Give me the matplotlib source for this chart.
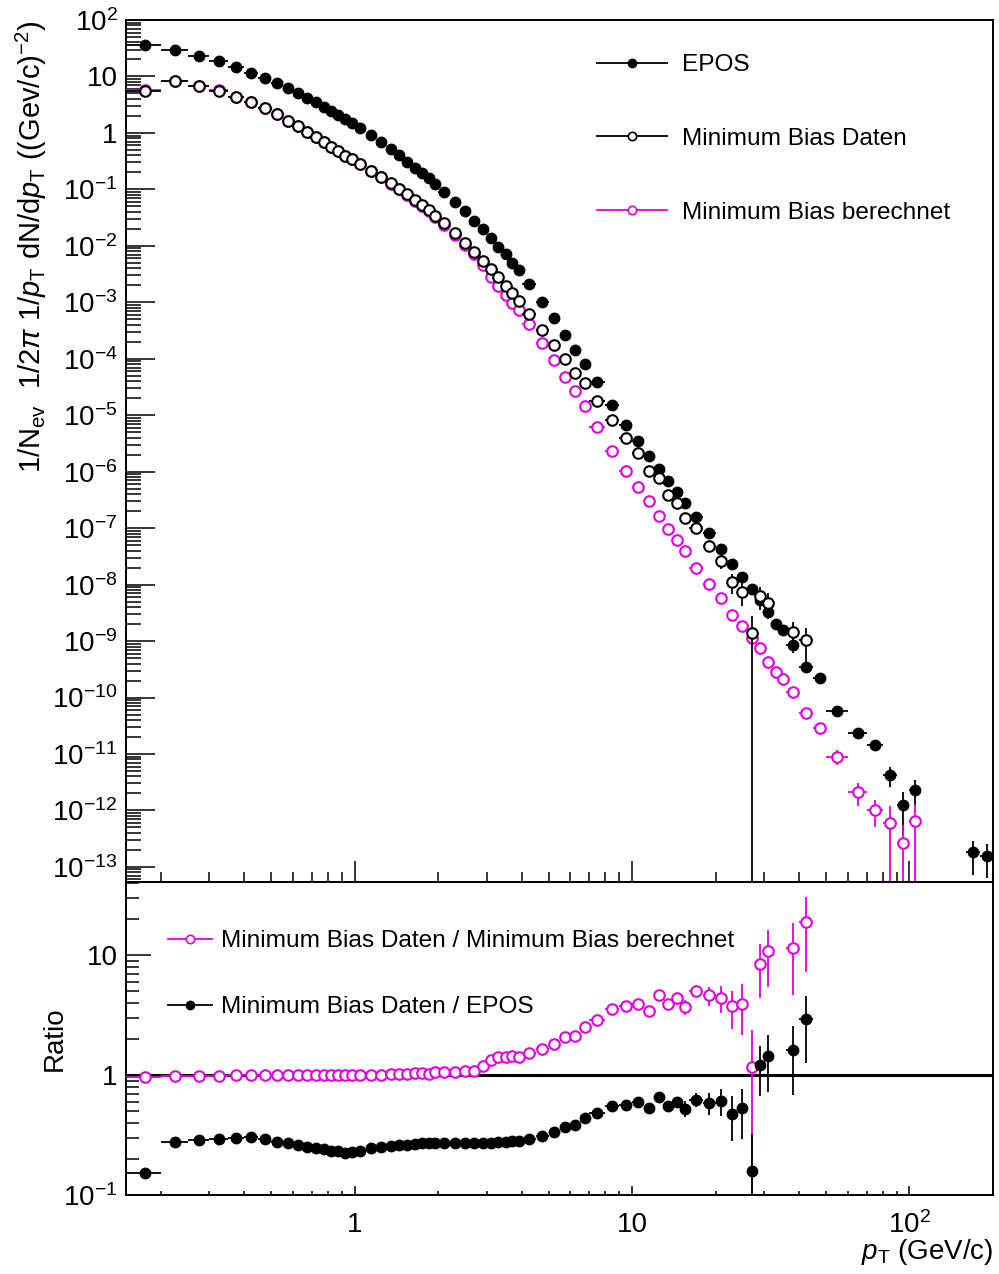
import numpy as np
import matplotlib
matplotlib.use('Agg')
import matplotlib.pyplot as plt
from matplotlib.ticker import LogLocator, FuncFormatter, NullFormatter
from matplotlib.lines import Line2D

plt.rcParams['font.family'] = ['Liberation Sans', 'DejaVu Sans']
plt.rcParams['mathtext.fontset'] = 'custom'
plt.rcParams['mathtext.rm'] = 'Liberation Sans'
plt.rcParams['mathtext.it'] = 'Liberation Sans:italic'
plt.rcParams['mathtext.bf'] = 'Liberation Sans:bold'

nan = np.nan

# pT bin edges (GeV/c)
edges = [0.15, 0.2, 0.25, 0.3, 0.35, 0.4, 0.45, 0.5, 0.55, 0.6, 0.65, 0.7, 0.75, 0.8, 0.85, 0.9, 0.95, 1.0,
         1.1, 1.2, 1.3, 1.4, 1.5, 1.6, 1.7, 1.8, 1.9, 2.0,
         2.2, 2.4, 2.6, 2.8, 3.0, 3.2, 3.4, 3.6, 3.8, 4.0,
         4.5, 5.0, 5.5, 6.0, 6.5, 7.0,
         8, 9, 10, 11, 12, 13, 14, 15, 16,
         18, 20, 22, 24, 26, 28, 30, 32,
         34, 36, 40, 45, 50,
         60, 70, 80, 90, 100, 110, 160, 180, 200]

epos = [36.1, 29.4, 23.3, 18.6, 14.5, 11.7, 9.28, 7.66, 6.17, 5.10, 4.21, 3.53, 2.92, 2.48, 2.08, 1.79, 1.50,
        1.21, 0.919, 0.683, 0.519, 0.402, 0.310, 0.242, 0.193, 0.157, 0.125,
        0.0900, 0.0591, 0.0410, 0.0279, 0.0197, 0.0138, 0.00967, 0.00710, 0.00504, 0.00374,
        2.14e-3, 1.03e-3, 5.22e-4, 2.67e-4, 1.43e-4, 8.10e-5,
        3.84e-5, 1.50e-5, 6.73e-6, 3.50e-6, 1.93e-6, 1.13e-6, 6.95e-7, 4.43e-7, 2.83e-7,
        1.60e-7, 8.23e-8, 4.23e-8, 2.33e-8, 1.35e-8, 8.39e-9, 5.29e-9, 3.28e-9,
        2.04e-9, 1.58e-9,
        8.66e-10, 3.53e-10, 2.23e-10,
        5.73e-11, 2.39e-11, 1.43e-11, 4.27e-12, 1.26e-12, 2.31e-12,
        nan, 1.80e-13, 1.59e-13]
epos_rel = [0.01] * 17 + [0.01] * 10 + [0.01] * 10 + [0.02] * 6 + [0.03] * 9 + \
           [0.04, 0.05, 0.06, 0.08, 0.10, 0.12, 0.20, 0.24] + [0.15, 0.15] + [0.28, 0.12, 0.10] + \
           [0.12, 0.20, 0.15, 0.40, 0.71, 0.48] + [nan, 0.6, 0.6]

daten = [5.60, 8.32, 6.78, 5.60, 4.38, 3.57, 2.73, 2.14, 1.65, 1.33, 1.05, 0.858, 0.700, 0.571, 0.479, 0.395, 0.341,
         0.282, 0.214, 0.168, 0.131, 0.103, 0.0829, 0.0649, 0.0530, 0.0427, 0.0341,
         0.0249, 0.0166, 0.0111, 0.00779, 0.00540, 0.00385, 0.00281, 0.00195, 0.00145, 0.00106,
         6.22e-4, 3.24e-4, 1.76e-4, 1.00e-4, 5.61e-5, 3.69e-5,
         1.81e-5, 8.25e-6, 3.91e-6, 2.12e-6, 1.03e-6, 7.66e-7, 3.88e-7, 2.76e-7, 1.50e-7,
         1.02e-7, 4.84e-8, 2.63e-8, 1.12e-8, 7.43e-9, 1.38e-9, 6.31e-9, 4.80e-9,
         nan, nan,
         1.44e-9, 1.05e-9, nan,
         nan, nan, nan, nan, nan, nan,
         nan, nan, nan]
daten_rel = [0.01] * 17 + [0.01] * 10 + [0.01] * 10 + [0.02] * 6 + [0.03] * 6 + [0.06, 0.06, 0.08] + \
            [0.10, 0.15, 0.27, 0.39, 0.43, 1.02, 0.43, 0.48] + [nan, nan] + [0.50, 0.60, nan] + \
            [nan] * 6 + [nan] * 3

berechnet = [5.82, 8.48, 6.91, 5.66, 4.40, 3.59, 2.74, 2.15, 1.66, 1.34, 1.055, 0.858, 0.699, 0.570, 0.477, 0.394, 0.340,
             0.280, 0.211, 0.166, 0.127, 0.100, 0.0803, 0.0624, 0.0510, 0.0413, 0.0322,
             0.0234, 0.0155, 0.0102, 0.00721, 0.00453, 0.00281, 0.00197, 0.00135, 9.9e-4, 7.2e-4,
             4.05e-4, 1.93e-4, 9.5e-5, 4.82e-5, 2.7e-5, 1.44e-5,
             6.25e-6, 2.34e-6, 1.01e-6, 5.35e-7, 2.97e-7, 1.62e-7, 9.7e-8, 6.2e-8, 4.0e-8,
             1.98e-8, 1.03e-8, 5.85e-9, 2.94e-9, 1.84e-9, 1.15e-9, 7.5e-10, 4.3e-10,
             2.84e-10, 2.16e-10,
             1.24e-10, 5.41e-11, 2.86e-11,
             9.0e-12, 2.13e-12, 1.02e-12, 5.95e-13, 2.70e-13, 6.53e-13,
             nan, nan, nan]
berechnet_rel = [0.01] * 17 + [0.01] * 10 + [0.01] * 10 + [0.02] * 6 + [0.02] * 9 + \
                [0.03, 0.03, 0.04, 0.04, 0.05, 0.05, 0.06, 0.07] + [0.07, 0.08] + [0.08, 0.10, 0.15] + \
                [0.30, 0.43, 0.50, 1.02, 1.02, 1.02] + [nan] * 3

# ratio Daten / berechnet
ratio_mb = [0.962, 0.981, 0.981, 0.99, 0.995, 0.995, 0.995, 0.995, 0.995, 0.995, 0.995, 1.0, 1.002, 1.002, 1.005, 1.002, 1.002,
            1.007, 1.013, 1.013, 1.033, 1.027, 1.033, 1.04, 1.04, 1.033, 1.06,
            1.065, 1.07, 1.09, 1.08, 1.205, 1.35, 1.415, 1.43, 1.44, 1.43,
            1.54, 1.66, 1.83, 2.08, 2.11, 2.52,
            2.91, 3.55, 3.81, 3.93, 3.44, 4.65, 3.96, 4.45, 3.71,
            5.05, 4.65, 4.45, 3.76, 3.96, 1.18, 8.4, 10.9,
            nan, nan,
            11.6, 19.0, nan,
            nan, nan, nan, nan, nan, nan,
            nan, nan, nan]
ratio_mb_rel = [0.01] * 17 + [0.01] * 10 + [0.02] * 10 + [0.02] * 6 + \
               [0.03, 0.03, 0.03, 0.03, 0.03, 0.05, 0.08, 0.08, 0.15] + \
               [0.10, 0.18, 0.25, 0.35, 0.45, 1.02, 0.47, 0.50] + [nan, nan] + [0.60, 0.62, nan] + \
               [nan] * 6 + [nan] * 3

# ratio Daten / EPOS
ratio_epos = [0.152, 0.279, 0.288, 0.291, 0.297, 0.303, 0.293, 0.279, 0.27, 0.26, 0.25, 0.245, 0.24, 0.235, 0.231, 0.226, 0.228,
              0.234, 0.245, 0.251, 0.258, 0.261, 0.264, 0.268, 0.27, 0.272, 0.273,
              0.273, 0.273, 0.273, 0.273, 0.272, 0.273, 0.277, 0.277, 0.28, 0.28,
              0.293, 0.313, 0.333, 0.372, 0.384, 0.436,
              0.484, 0.554, 0.561, 0.598, 0.53, 0.663, 0.554, 0.602, 0.526,
              0.626, 0.587, 0.614, 0.475, 0.533, 0.159, 1.21, 1.44,
              nan, nan,
              1.63, 2.93, nan,
              nan, nan, nan, nan, nan, nan,
              nan, nan, nan]
ratio_epos_rel = [0.01] * 17 + [0.01] * 10 + [0.02] * 10 + [0.02] * 6 + \
                 [0.03, 0.03, 0.03, 0.03, 0.04, 0.05, 0.10, 0.10, 0.15] + \
                 [0.13, 0.20, 0.25, 0.40, 0.45, 1.02, 0.45, 0.50] + [nan, nan] + [0.58, 0.57, nan] + \
                 [nan] * 6 + [nan] * 3

edges = np.array(edges)
pt = 0.5 * (edges[:-1] + edges[1:])
ptw = 0.5 * (edges[1:] - edges[:-1])

magenta = '#e000e0'

fig = plt.figure(figsize=(9.99, 12.74), dpi=100)
ax = fig.add_axes([0.1261, 0.30769, 0.8679, 0.6766])
ax2 = fig.add_axes([0.1261, 0.0620, 0.8679, 0.2457])


def logfmt(v, pos):
    n = int(round(np.log10(v)))
    if n == 0:
        return '1'
    if n == 1:
        return '10'
    return r'$10^{%d}$' % n


def draw(a, y, rel, color, filled, z):
    y = np.array(y, dtype=float)
    e = y * np.array(rel, dtype=float)
    a.errorbar(pt, y, yerr=e, xerr=ptw, fmt='o', color=color, ecolor=color,
               mfc=color if filled else 'white', mec=color,
               ms=7.0 if filled else 7.6, mew=1.5,
               elinewidth=1.3, capsize=0, zorder=z)


draw(ax, epos, epos_rel, 'black', True, 3)
draw(ax, berechnet, berechnet_rel, magenta, False, 4)
draw(ax, daten, daten_rel, 'black', False, 5)

draw(ax2, ratio_mb, ratio_mb_rel, magenta, False, 4)
draw(ax2, ratio_epos, ratio_epos_rel, 'black', True, 5)
ax2.axhline(1.0, color='black', lw=2.2, zorder=2)

for a in (ax, ax2):
    a.set_xscale('log')
    a.set_yscale('log')
    a.set_xlim(0.15, 200)
    a.xaxis.set_major_locator(LogLocator(base=10, numticks=20))
    a.xaxis.set_minor_locator(LogLocator(base=10, subs=np.arange(2, 10), numticks=20))
    a.yaxis.set_major_locator(LogLocator(base=10, numticks=30))
    a.yaxis.set_minor_locator(LogLocator(base=10, subs=np.arange(2, 10), numticks=30))
    a.yaxis.set_major_formatter(FuncFormatter(logfmt))
    a.yaxis.set_minor_formatter(NullFormatter())
    a.tick_params(which='both', direction='in', top=False, right=False, labelsize=20, width=1.1)
    for s in a.spines.values():
        s.set_linewidth(1.4)

ax.set_ylim(5.4e-14, 100)
ax.tick_params(axis='y', which='major', length=21, pad=6)
ax.tick_params(axis='y', which='minor', length=11)
ax.tick_params(axis='x', which='major', length=15)
ax.tick_params(axis='x', which='minor', length=7.2)
ax.xaxis.set_major_formatter(NullFormatter())
ax.xaxis.set_minor_formatter(NullFormatter())

ax2.set_ylim(0.1, 41)
ax2.tick_params(axis='y', which='major', length=18, pad=6)
ax2.tick_params(axis='y', which='minor', length=9)
ax2.tick_params(axis='x', which='major', length=6.7, pad=12)
ax2.tick_params(axis='x', which='minor', length=3.2)
ax2.xaxis.set_major_formatter(FuncFormatter(logfmt))
ax2.xaxis.set_minor_formatter(NullFormatter())

ax.set_ylabel(r'1/N$_{\mathrm{ev}}$  1/2$\pi$ 1/$p_{\mathrm{T}}$ dN/d$p_{\mathrm{T}}$ ((Gev/c)$^{-2}$)',
              fontsize=21, loc='top')
ax.yaxis.set_label_coords(-0.089, 1.0)
ax2.set_ylabel('Ratio', fontsize=20)
ax2.yaxis.set_label_coords(-0.067, 0.5)
ax2.set_xlabel(r'$p_{\mathrm{T}}$ (GeV/c)', fontsize=20, loc='right')
ax2.xaxis.set_label_coords(1.0, -0.135)

h_epos = Line2D([], [], color='black', marker='o', mfc='black', mec='black', ms=6, lw=1.3)
h_daten = Line2D([], [], color='black', marker='o', mfc='white', mec='black', ms=6, mew=1.2, lw=1.3)
h_ber = Line2D([], [], color=magenta, marker='o', mfc='white', mec=magenta, ms=6, mew=1.2, lw=1.3)
ax.legend([h_epos, h_daten, h_ber], ['EPOS', 'Minimum Bias Daten', 'Minimum Bias berechnet'],
          loc='upper left', bbox_to_anchor=(597 / 999, 1 - 54 / 1274), bbox_transform=fig.transFigure,
          frameon=False, fontsize=17.6, handlelength=2.87, handletextpad=0.62, labelspacing=2.12,
          borderpad=0, borderaxespad=0)

h_r1 = Line2D([], [], color=magenta, marker='o', mfc='white', mec=magenta, ms=6, mew=1.2, lw=1.3)
h_r2 = Line2D([], [], color='black', marker='o', mfc='black', mec='black', ms=6, lw=1.3)
ax2.legend([h_r1, h_r2], ['Minimum Bias Daten / Minimum Bias berechnet', 'Minimum Bias Daten / EPOS'],
           loc='upper left', bbox_to_anchor=(168 / 999, 1 - 930 / 1274), bbox_transform=fig.transFigure,
           frameon=False, fontsize=17.6, handlelength=1.78, handletextpad=0.40, labelspacing=1.8,
           borderpad=0, borderaxespad=0)

fig.savefig('out.png', dpi=100)
